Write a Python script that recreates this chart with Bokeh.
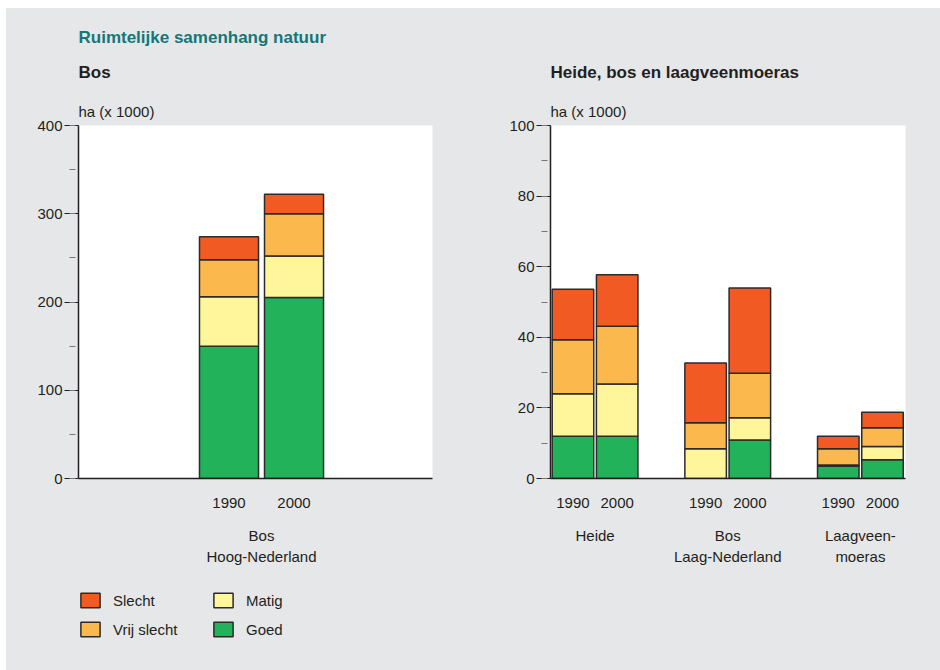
from bokeh.plotting import figure
from bokeh.models import (ColumnDataSource, Range1d, LinearAxis, FixedTicker,
                          SingleIntervalTicker, Title, Legend, LegendItem)
from bokeh.layouts import row, column
from bokeh.embed import file_html
from bokeh.resources import INLINE

FONT = "Liberation Sans"
BG = "#e6e7e8"
INK = "#231f20"
TEAL = "#12787a"
OUTLINE = "#2b2b2b"

# ---- data ----
years = ["1990", "2000"]
stack_keys = ["goed", "matig", "vrij", "slecht"]
stack_labels = ["Goed", "Matig", "Vrij slecht", "Slecht"]
stack_colors = ["#21b25a", "#fff69b", "#fbb84c", "#f15a22"]
legend_order = ["Slecht", "Vrij slecht", "Matig", "Goed"]

left_groups = ["Bos\nHoog-Nederland"]
left_goed = [150, 205]
left_matig = [56, 47]
left_vrij = [42, 48]
left_slecht = [26, 22]

right_groups = ["Heide", "Bos\nLaag-Nederland", "Laagveen-\nmoeras"]
right_goed = [12, 12, 0, 10.9, 3.5, 5.3]
right_matig = [12, 14.8, 8.4, 6.3, 0.3, 3.8]
right_vrij = [15.3, 16.3, 7.4, 12.6, 4.6, 5.3]
right_slecht = [14.3, 14.6, 16.9, 24.2, 3.6, 4.4]


def positions(groups, pitch):
    xs, labels = [], []
    for gi, _ in enumerate(groups):
        for yi, yr in enumerate(years):
            xs.append(gi + (yi - 0.5) * pitch)
            labels.append(yr)
    return xs, labels


def make_fig(groups, goed, matig, vrij, slecht, pitch, bar_w, xr, ymax, interval,
             fw, ml, mr, mb):
    xs, ylabels = positions(groups, pitch)
    src = ColumnDataSource(dict(x=xs, goed=goed, matig=matig, vrij=vrij, slecht=slecht))
    p = figure(frame_width=fw, frame_height=353, x_range=Range1d(*xr),
               y_range=Range1d(0, ymax), output_backend="svg", toolbar_location=None,
               x_axis_type=None, y_axis_type=None,
               min_border_left=ml, min_border_right=mr, min_border_top=117,
               min_border_bottom=mb, background_fill_color="white",
               border_fill_color=BG, outline_line_color=None)
    p.vbar_stack(stack_keys, x="x", width=bar_w, source=src, color=stack_colors,
                 line_color=OUTLINE, line_width=1.5)

    yax = LinearAxis(ticker=SingleIntervalTicker(interval=interval, num_minor_ticks=2),
                     axis_line_color=INK, axis_line_width=1.5,
                     major_tick_in=0, major_tick_out=14, major_tick_line_color=INK,
                     major_tick_line_width=1.2,
                     minor_tick_in=-3, minor_tick_out=9, minor_tick_line_color="#777777",
                     major_label_standoff=2, major_label_text_font=FONT,
                     major_label_text_font_size="15px", major_label_text_color=INK)
    p.add_layout(yax, "left")

    xax = LinearAxis(ticker=FixedTicker(ticks=xs),
                     major_label_overrides={x: l for x, l in zip(xs, ylabels)},
                     axis_line_color=INK, axis_line_width=1.5,
                     major_tick_line_color=None, minor_tick_line_color=None,
                     major_label_standoff=13, major_label_text_font=FONT,
                     major_label_text_font_size="15px", major_label_text_color=INK)
    p.add_layout(xax, "below")

    gcent = [float(i) for i in range(len(groups))]
    gax = LinearAxis(ticker=FixedTicker(ticks=gcent),
                     major_label_overrides={x: g for x, g in zip(gcent, groups)},
                     axis_line_color=None,
                     major_tick_line_color=None, minor_tick_line_color=None,
                     major_label_standoff=10, major_label_text_font=FONT,
                     major_label_text_font_size="15px", major_label_text_color=INK,
                     major_label_text_line_height=1.25)
    p.add_layout(gax, "below")
    return p, src


def add_title(p, text, size, bold, color, standoff):
    p.add_layout(Title(text=text, align="left", text_font=FONT, text_font_size=size,
                       text_font_style="bold" if bold else "normal", text_color=color,
                       standoff=standoff), "above")


left, lsrc = make_fig(left_groups, left_goed, left_matig, left_vrij, left_slecht,
                      1.0, 0.908, (-2.815, 2.63), 400, 100, 354, 72, 38, 100)
right, rsrc = make_fig(right_groups, right_goed, right_matig, right_vrij, right_slecht,
                       1 / 3, 0.313, (-0.336, 2.34), 100, 20, 355, 80, 35, 192)

add_title(left, "ha (x 1000)", "15px", False, INK, 12)
add_title(left, "Bos", "17px", True, INK, 26)
add_title(left, "Ruimtelijke samenhang natuur", "17px", True, TEAL, 2)
add_title(right, "ha (x 1000)", "15px", False, INK, 12)
add_title(right, "Heide, bos en laagveenmoeras", "17px", True, INK, 26)

# ---- legend (own small canvas below the left chart) ----
leg = figure(frame_width=464, frame_height=92, x_range=Range1d(0, 1),
             y_range=Range1d(0, 1), output_backend="svg", toolbar_location=None,
             x_axis_type=None, y_axis_type=None, min_border=0,
             background_fill_color=BG, border_fill_color=BG, outline_line_color=None)
swatch = {}
for key, lab, col in zip(stack_keys, stack_labels, stack_colors):
    swatch[lab] = leg.vbar(x="x", top=key, width=0.1, source=lsrc, fill_color=col,
                           line_color=OUTLINE, line_width=1.5, visible=False)
legend = Legend(items=[LegendItem(label=k, renderers=[swatch[k]]) for k in legend_order],
                location=(72, 32), orientation="vertical", nrows=2, margin=0, padding=0,
                spacing=11, glyph_width=24, glyph_height=18, label_standoff=11,
                label_width=87, label_text_font=FONT, label_text_font_size="15px",
                label_text_color=INK, background_fill_alpha=0, border_line_color=None,
                click_policy="none")
leg.add_layout(legend, "center")

layout = row(column(left, leg, styles={"background-color": BG}), right,
             margin=(8, 0, 0, 6), styles={"background-color": BG})
open("out.html", "w").write(file_html(layout, INLINE))
